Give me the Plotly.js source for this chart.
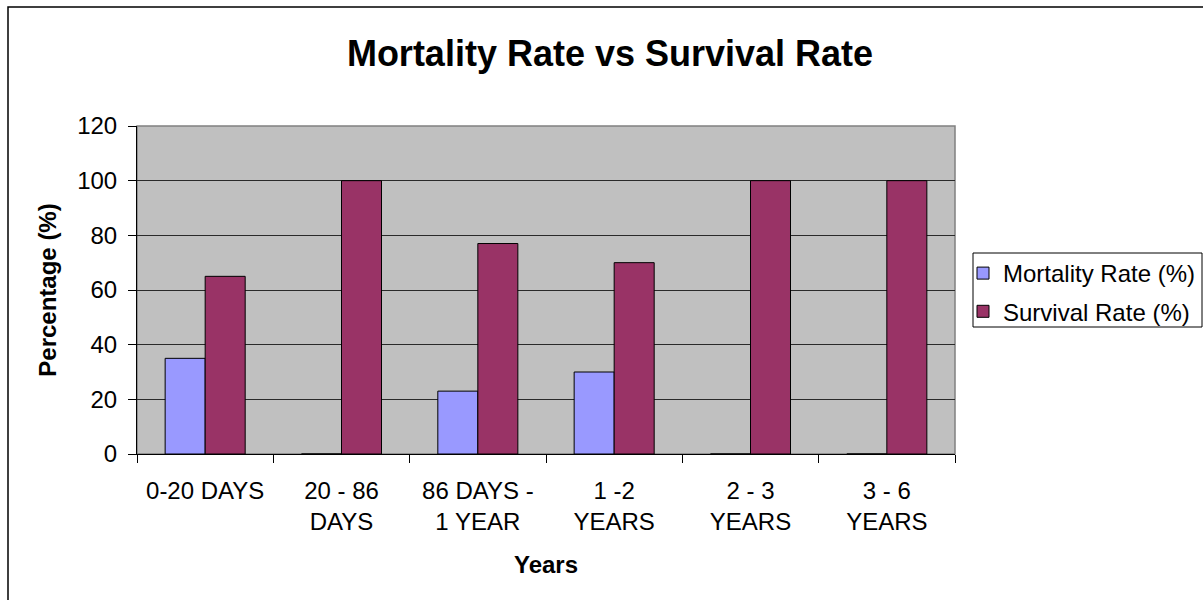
<!DOCTYPE html>
<html>
<head>
<meta charset="utf-8">
<script src="https://cdn.plot.ly/plotly-3.0.1.min.js"></script>
<style>html,body{margin:0;padding:0;background:#fff;}#chart{width:1203px;height:600px;}</style>
</head>
<body>
<div id="chart"></div>
<script>
const categories = ["0-20 DAYS", "20 - 86<br>DAYS", "86 DAYS -<br>1 YEAR", "1 -2<br>YEARS", "2 - 3<br>YEARS", "3 - 6<br>YEARS"];
const mortalityRate = [35, 0, 23, 30, 0, 0];
const survivalRate = [65, 100, 77, 70, 100, 100];
const seriesNames = ["Mortality Rate (%)", "Survival Rate (%)"];

const FONT = "Liberation Sans, Arial, sans-serif";
const L = 137, R = 955, T = 126, B = 454, W = 1203, H = 600;
const pw = R - L, ph = B - T;
const px = v => (v - L) / pw;
const py = v => (B - v) / ph;

const traces = [
  {type: "bar", name: seriesNames[0], legendgroup: "a", x: categories, y: mortalityRate,
   marker: {color: "#9999ff", line: {color: "#000000", width: 1}}},
  {type: "bar", name: seriesNames[1], legendgroup: "b", x: categories, y: survivalRate,
   marker: {color: "#993366", line: {color: "#000000", width: 1}}}
];

const layout = {
  width: W, height: H,
  margin: {l: L, r: W - R, t: T, b: H - B, pad: 0, autoexpand: false},
  paper_bgcolor: "#ffffff",
  plot_bgcolor: "#c0c0c0",
  font: {family: FONT, size: 24, color: "#000000"},
  showlegend: true,
  barmode: "group",
  bargap: 0.413,
  bargroupgap: 0,
  hovermode: false,
  title: {text: "<b>Mortality Rate vs Survival Rate</b>", font: {family: FONT, size: 36, color: "#000"},
          x: 610 / W, xanchor: "center", xref: "container", y: 1 - 53 / H, yanchor: "middle", yref: "container"},
  xaxis: {
    type: "category",
    tickson: "boundaries",
    ticks: "outside", ticklen: 8, tickcolor: "#000", tickwidth: 1,
    showline: true, linecolor: "#000", linewidth: 1,
    showgrid: false, zeroline: false, automargin: false,
    tickfont: {family: FONT, size: 24, color: "#000"},
    ticklabelstandoff: 15,
    title: {text: "<b>Years</b>", font: {family: FONT, size: 24, color: "#000"}, standoff: 22}
  },
  yaxis: {
    range: [0, 120], dtick: 20, tick0: 0,
    ticks: "outside", ticklen: 8, tickcolor: "#000", tickwidth: 1,
    showline: true, linecolor: "#000", linewidth: 1,
    showgrid: true, gridcolor: "#2a2a2a", gridwidth: 1,
    zeroline: false, automargin: false,
    tickfont: {family: FONT, size: 24, color: "#000"},
    ticklabelstandoff: 6,
    title: {text: "<b>Percentage (%)</b>", font: {family: FONT, size: 24, color: "#000"}, standoff: 13}
  },
  legend: {
    x: px(963), y: py(251), xanchor: "left", yanchor: "top",
    bgcolor: "rgba(0,0,0,0)", borderwidth: 0,
    font: {family: FONT, size: 24, color: "#000"},
    itemwidth: 30, tracegroupgap: 4
  },
  shapes: [
    {type: "rect", xref: "paper", yref: "paper", x0: 0, x1: 1, y0: 0, y1: 1,
     line: {color: "#808080", width: 1.5}, fillcolor: "rgba(0,0,0,0)", layer: "below"},
    {type: "rect", xref: "paper", yref: "paper", x0: px(973), x1: px(1202), y0: py(327), y1: py(253),
     line: {color: "#000000", width: 1}, fillcolor: "rgba(0,0,0,0)", layer: "above"},
    {type: "rect", xref: "paper", yref: "paper", x0: px(8), x1: px(1215), y0: py(7), y1: py(615),
     line: {color: "#000000", width: 1.5}, fillcolor: "rgba(0,0,0,0)", layer: "above"}
  ]
};

Plotly.newPlot("chart", traces, layout, {displayModeBar: false, staticPlot: true});
</script>
</body>
</html>
